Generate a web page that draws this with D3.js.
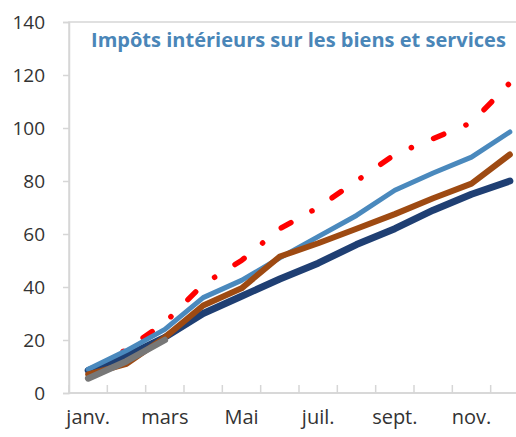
<!DOCTYPE html>
<html><head><meta charset="utf-8">
<script src="https://cdn.jsdelivr.net/npm/d3@7"></script>
<style>html,body{margin:0;padding:0;background:#fff;overflow:hidden}svg{display:block}</style>
</head><body>
<script>
const months = ["janv.","févr.","mars","avr.","Mai","juin","juil.","août","sept.","oct.","nov.","déc."];
const shownLabels = ["janv.","mars","Mai","juil.","sept.","nov."];
const yTicks = [0,20,40,60,80,100,120,140];
const title = "Impôts intérieurs sur les biens et services";
const navy  = [8.5, 14, 21, 30, 36.5, 43, 49, 56, 62, 69, 75, 80];
const light = [9, 16, 24, 36, 42.5, 51, 59, 67, 76.5, 83, 89, 98.5];
const brown = [7, 11, 21, 33, 39.5, 51.5, 56.5, 62, 67.5, 73.5, 79, 90];
const red   = [7.5, 16.5, 26.5, 41, 50, 62, 70, 80, 90, 96, 102, 117];
const gray  = [5.5, 12, 20];

const W = 516, H = 437;
const L = 69, R = 529, T = 22, B = 393;
const svg = d3.select("body").append("svg").attr("width", W).attr("height", H);
const x = d3.scaleBand().domain(months).range([L, R]);
const y = d3.scaleLinear().domain([0, 140]).range([B, T]);
const font = "'Open Sans', 'Noto Sans', sans-serif";

// frame
svg.append("rect").attr("x", L).attr("y", T).attr("width", R - L).attr("height", B - T)
  .attr("fill", "none").attr("stroke", "#d6d6d6").attr("stroke-width", 1.5);

// y axis
const ya = svg.append("g").attr("transform", `translate(${L},0)`)
  .call(d3.axisLeft(y).tickValues(yTicks).tickSize(6).tickPadding(18));
ya.select(".domain").attr("stroke", "#d6d6d6").attr("stroke-width", 1.5);
ya.selectAll(".tick line").attr("stroke", "#d6d6d6").attr("stroke-width", 1.5);
ya.selectAll("text").attr("font-family", font).attr("font-size", 19).attr("fill", "#333");

// x axis: boundary ticks inward
const xa = svg.append("g").attr("transform", `translate(0,${B})`);
xa.append("line").attr("x1", L).attr("x2", R).attr("stroke", "#d6d6d6").attr("stroke-width", 1.5);
xa.selectAll("line.tk").data(months.concat(["end"])).join("line").attr("class", "tk")
  .attr("x1", (d, i) => L + i * x.bandwidth()).attr("x2", (d, i) => L + i * x.bandwidth())
  .attr("y1", 0).attr("y2", -8).attr("stroke", "#d6d6d6").attr("stroke-width", 1.5);
xa.selectAll("text").data(shownLabels).join("text")
  .attr("x", d => x(d) + x.bandwidth() / 2).attr("y", 31)
  .attr("text-anchor", "middle").attr("font-family", font).attr("font-size", 20).attr("fill", "#333")
  .text(d => d);

// title
const tt = svg.append("text").attr("x", 91).attr("y", 47).attr("font-family", font)
  .attr("font-weight", 700).attr("font-size", 19).attr("fill", "#4a86b8").text(title);
const tw = tt.node().getComputedTextLength();
tt.attr("font-size", 19 * 415 / tw);

const line = d3.line().x((d, i) => x(months[i]) + x.bandwidth() / 2).y(d => y(d));
function draw(data, color, width, dash) {
  const p = svg.append("path").datum(data).attr("d", line).attr("fill", "none")
    .attr("stroke", color).attr("stroke-width", width)
    .attr("stroke-linejoin", "round").attr("stroke-linecap", "round");
  if (dash) p.attr("stroke-dasharray", dash);
  return p;
}
// red dash-dot first (underneath), phase so a dot falls near x=301
const rp = draw(red, "#ff0000", 5.5, "11,24,0.1,24");
(function () {
  const n = rp.node(), total = n.getTotalLength();
  let lo = 0, hi = total;
  for (let k = 0; k < 40; k++) { const m = (lo + hi) / 2; if (n.getPointAtLength(m).x < 301) lo = m; else hi = m; }
  const period = 59.1, dotPos = 35;
  let off = ((dotPos - lo) % period + period) % period;
  rp.attr("stroke-dashoffset", -off);
})();
draw(navy, "#1f3f73", 7);
draw(light, "#4a89bd", 5);
draw(brown, "#9e4a12", 6);
draw(gray, "#777777", 6.5);
</script>
</body></html>
